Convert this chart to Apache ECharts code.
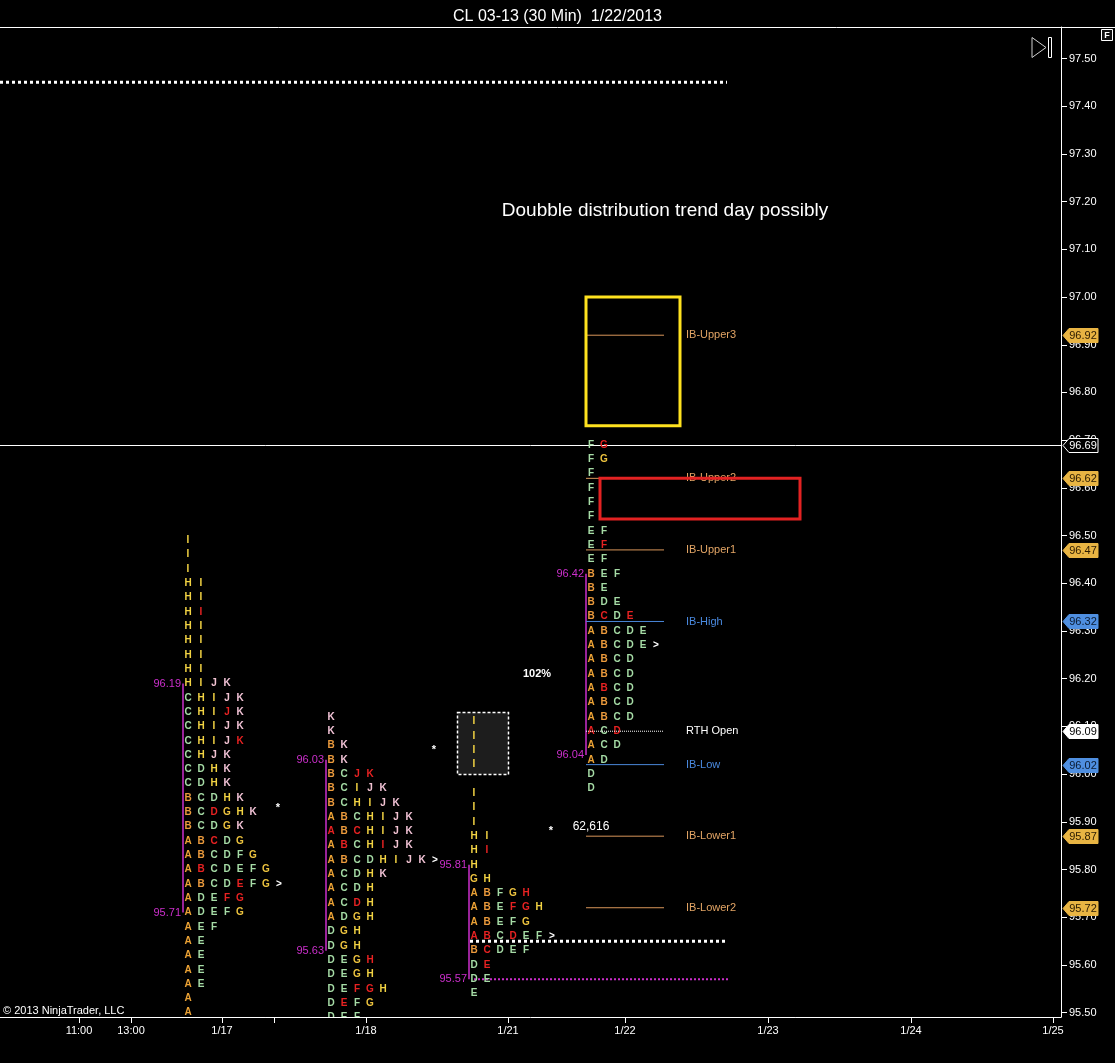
<!DOCTYPE html>
<html>
<head>
<meta charset="utf-8">
<title>CL 03-13 (30 Min) 1/22/2013</title>
<script src="https://cdn.jsdelivr.net/npm/echarts@6/dist/echarts.min.js"></script>
<style>
  html, body { margin: 0; padding: 0; background: #000; }
  #chart { width: 1115px; height: 1063px; }
</style>
</head>
<body>
<div id="chart"></div>
<script>
// axis ticks
var priceTicks = [95.5, 95.6, 95.7, 95.8, 95.9, 96.0, 96.1, 96.2, 96.3, 96.4, 96.5,
  96.6, 96.7, 96.8, 96.9, 97.0, 97.1, 97.2, 97.3, 97.4, 97.5];
var timeTickPos = [79, 131, 222, 274, 366, 508, 625, 768, 911, 1053];
var timeTickLabels = ['11:00', '13:00', '1/17', '', '1/18', '1/21', '1/22', '1/23', '1/24', '1/25'];

// TPO profiles, one row per 3 ticks from the top price down (lowercase = red print, > = close)
var rowStep = 0.03;
var profileX = [188, 331, 474, 591];
var profileTop = [96.49, 96.12, 96.11, 96.69];
var profile0117 = ['I', 'I', 'I', 'HI', 'HI', 'Hi', 'HI', 'HI', 'HI', 'HI', 'HIJK',
  'CHIJK', 'CHIjK', 'CHIJK', 'CHIJk', 'CHJK', 'CDHK', 'CDHK', 'BCDHK', 'BCdGHK', 'BCDGK',
  'ABcDG', 'ABCDFG', 'AbCDEFG', 'ABCDeFG>', 'ADEfg', 'ADEFG', 'AEF', 'AE', 'AE', 'AE', 'AE', 'A', 'A'];
var profile0118 = ['K', 'K', 'BK', 'BK', 'BCjk', 'BCIJK', 'BCHIJK', 'ABCHIJK', 'aBcHIJK', 'AbCHiJK',
  'ABCDHIJK>', 'ACDHK', 'ACDH', 'ACdH', 'ADGH', 'DGH', 'DGH', 'DEGh', 'DEGH', 'DEfgH', 'DeFG', 'DEF'];
var profile0121 = ['I', 'I', 'I', 'I', '', 'I', 'I', 'I', 'HI', 'Hi', 'H', 'GH', 'ABFGh', 'ABEfgH',
  'ABEFG', 'abCdEF>', 'BcDEF', 'De', 'DE', 'E'];
var profile0122 = ['Fg', 'FG', 'F', 'F', 'F', 'F', 'EF', 'Ef', 'EF', 'BEF', 'BE', 'BDE', 'BcDe',
  'ABCDE', 'ABCDE>', 'ABCD', 'ABCD', 'AbCD', 'ABCD', 'ABCD', 'aCd', 'ACD', 'AD', 'D', 'D'];
var vaHigh = [96.19, 96.03, 95.81, 96.42];
var vaLow = [95.71, 95.63, 95.57, 96.04];

// initial balance levels of 1/22
var levelNames = ['IB-Upper3', 'IB-Upper2', 'IB-Upper1', 'IB-High', 'RTH Open', 'IB-Low', 'IB-Lower1', 'IB-Lower2'];
var levelPrices = [96.92, 96.62, 96.47, 96.32, 96.09, 96.02, 95.87, 95.72];
var levelKind = ['ext', 'ext', 'ext', 'ib', 'open', 'ib', 'ext', 'ext'];

// price markers on the axis
var badgePrices = [96.92, 96.69, 96.62, 96.47, 96.32, 96.09, 96.02, 95.87, 95.72];
var badgeKind = ['ext', 'last', 'ext', 'ext', 'ib', 'open', 'ib', 'ext', 'ext'];
var lastPrice = 96.69;

// drawn objects
var dottedPrices = [97.45, 95.65, 95.57];
var dottedFrom = [0, 470, 474];
var dottedTo = [727, 727, 728];
var rectX0 = [586, 600];
var rectX1 = [680, 800];
var rectTop = [97.00, 96.62];
var rectBottom = [96.73, 96.535];
var shadeBox = [457, 96.13, 508, 96.00];
var noteTexts = ['Doubble distribution trend day possibly', '102%', '62,616', '*', '*', '*'];
var noteX = [665, 537, 591, 278, 434, 551];
var notePrices = [97.18, 96.21, 95.89, 95.93, 96.05, 95.88];

var COL_W = 13;
var letterColors = {
  A: '#eba235', B: '#eb9a3c', C: '#a6dca6', D: '#a6dca6', E: '#a6dca6', F: '#a6dca6',
  G: '#ecc23e', H: '#f2d343', I: '#f2d343', J: '#f2c3d2', K: '#f2c3d6'
};
var levelColor = { ext: '#d8955a', ib: '#4a86d8', open: '#ffffff' };
var MAGENTA = '#cc2fcc';

function letterColor(ch) {
  if (ch === '>') return '#ffffff';
  if (ch !== ch.toUpperCase()) return '#e82222';
  return letterColors[ch];
}

var profiles = [profile0117, profile0118, profile0121, profile0122];
var cells = [];
profiles.forEach(function (rows, i) {
  rows.forEach(function (row, r) {
    var price = +(profileTop[i] - r * rowStep).toFixed(2);
    for (var c = 0; c < row.length; c++) {
      cells.push({ value: [profileX[i] + c * COL_W, price], ch: row[c] });
    }
  });
});

function crisp(v) { return Math.round(v) + 0.5; }

var chart = echarts.init(document.getElementById('chart'));
var series = [];

// shaded dashed box behind the letters
series.push({
  type: 'custom', z: 1, clip: false,
  data: [shadeBox],
  renderItem: function (params, api) {
    var a = api.coord([api.value(0), api.value(1)]);
    var b = api.coord([api.value(2), api.value(3)]);
    return { type: 'rect',
      shape: { x: crisp(a[0]), y: crisp(a[1]), width: Math.round(b[0] - a[0]), height: Math.round(b[1] - a[1]) },
      style: { fill: '#1d1d1d', stroke: '#ffffff', lineWidth: 1.5, lineDash: [3, 2] } };
  }
});

// TPO letters
series.push({
  type: 'custom', z: 3, clip: true,
  data: cells.map(function (c) { return c.value; }),
  renderItem: function (params, api) {
    var cell = cells[params.dataIndex];
    var p = api.coord([api.value(0), api.value(1)]);
    return {
      type: 'text', x: p[0], y: p[1],
      style: { text: cell.ch.toUpperCase(), fill: letterColor(cell.ch),
        font: 'bold 10px Arial', align: 'center', verticalAlign: 'middle' }
    };
  }
});

// value area lines + labels
series.push({
  type: 'custom', z: 3, clip: false,
  data: vaHigh.map(function (h, i) { return [profileX[i] - 5, h, vaLow[i]]; }),
  renderItem: function (params, api) {
    var a = api.coord([api.value(0), api.value(1)]);
    var b = api.coord([api.value(0), api.value(2)]);
    return {
      type: 'group',
      children: [
        { type: 'line', shape: { x1: a[0], y1: a[1], x2: b[0], y2: b[1] },
          style: { stroke: MAGENTA, lineWidth: 1.5 } },
        { type: 'text', x: a[0] - 2, y: a[1],
          style: { text: api.value(1).toFixed(2), fill: MAGENTA, font: '11px Arial', align: 'right', verticalAlign: 'middle' } },
        { type: 'text', x: b[0] - 2, y: b[1],
          style: { text: api.value(2).toFixed(2), fill: MAGENTA, font: '11px Arial', align: 'right', verticalAlign: 'middle' } }
      ]
    };
  }
});

// IB level segments
levelPrices.forEach(function (p, i) {
  var open = levelKind[i] === 'open';
  series.push({
    type: 'line', z: 4, symbol: 'none', silent: true,
    data: [[profileX[3] - 5, p], [664, p]],
    lineStyle: { color: levelColor[levelKind[i]], width: 1, type: open ? [1, 1] : 'solid' },
    endLabel: {
      show: true, formatter: levelNames[i], distance: 22,
      color: open ? '#ffffff' : (levelKind[i] === 'ib' ? '#4a8ae0' : '#e3a565'),
      fontFamily: 'Arial', fontSize: 11
    }
  });
});

// dotted levels
dottedPrices.forEach(function (p, i) {
  var mag = i === 2;
  series.push({
    type: 'line', z: 2, symbol: 'none', silent: true,
    data: [[dottedFrom[i], p], [dottedTo[i], p]],
    lineStyle: { color: mag ? MAGENTA : '#ffffff', width: mag ? 2 : 3, type: mag ? [2, 2] : [3, 3] }
  });
});

// last price line, snapped to the pixel grid
series.push({
  type: 'custom', z: 2, clip: false,
  data: [[0, lastPrice, 1061]],
  renderItem: function (params, api) {
    var a = api.coord([api.value(0), api.value(1)]);
    var b = api.coord([api.value(2), api.value(1)]);
    var y = crisp(a[1]);
    return { type: 'line', shape: { x1: a[0], y1: y, x2: b[0], y2: y },
      style: { stroke: '#ffffff', lineWidth: 1 } };
  }
});

// outlined rectangles on top
series.push({
  type: 'custom', z: 5, clip: false,
  data: rectX0.map(function (x, i) { return [x, rectTop[i], rectX1[i], rectBottom[i]]; }),
  renderItem: function (params, api) {
    var a = api.coord([api.value(0), api.value(1)]);
    var b = api.coord([api.value(2), api.value(3)]);
    return { type: 'rect', shape: { x: a[0], y: a[1], width: b[0] - a[0], height: b[1] - a[1] },
      style: { fill: null, stroke: params.dataIndex === 0 ? '#ffe21f' : '#e32222', lineWidth: 3 } };
  }
});

// notes
series.push({
  type: 'custom', z: 4, clip: false,
  data: noteX.map(function (x, i) { return [x, notePrices[i]]; }),
  renderItem: function (params, api) {
    var i = params.dataIndex;
    var p = api.coord([api.value(0), api.value(1)]);
    var font = i === 0 ? '19px Arial' : (i === 2 ? '12px Arial' : 'bold 11px Arial');
    return { type: 'text', x: p[0], y: p[1],
      style: { text: noteTexts[i], fill: '#ffffff', font: font, align: 'center', verticalAlign: 'middle' } };
  }
});

// axis price markers
series.push({
  type: 'custom', z: 6, clip: false,
  data: badgePrices.map(function (p) { return [1061, p]; }),
  renderItem: function (params, api) {
    var kind = badgeKind[params.dataIndex];
    var p = api.coord([api.value(0), api.value(1)]);
    var x = p[0], y = Math.round(p[1]) + 0.5;
    var fill = '#e8b443', stroke = '#e8b443', txt = '#2a1a00';
    if (kind === 'ib') { fill = '#4f8fe0'; stroke = '#4f8fe0'; txt = '#0a1a30'; }
    if (kind === 'open') { fill = '#ffffff'; stroke = '#ffffff'; txt = '#000000'; }
    if (kind === 'last') { fill = '#000000'; stroke = '#ffffff'; txt = '#ffffff'; }
    return {
      type: 'group',
      children: [
        { type: 'polygon',
          shape: { points: [[x + 2, y], [x + 8, y - 7], [x + 37, y - 7], [x + 37, y + 7], [x + 8, y + 7]] },
          style: { fill: fill, stroke: stroke, lineWidth: 1 } },
        { type: 'text', x: x + 22, y: y + 0.5,
          style: { text: api.value(1).toFixed(2), fill: txt, font: '11px Arial', align: 'center', verticalAlign: 'middle' } }
      ]
    };
  }
});

var option = {
  backgroundColor: '#000000',
  animation: false,
  title: {
    text: 'CL 03-13 (30 Min)  1/22/2013',
    left: 'center',
    top: 4,
    textStyle: { color: '#ffffff', fontSize: 16, fontWeight: 'normal', fontFamily: 'Arial' }
  },
  grid: { left: 0, right: 54, top: 27, bottom: 46, show: false },
  xAxis: {
    type: 'value',
    min: 0,
    max: 1061,
    axisLine: { show: true, onZero: false, lineStyle: { color: '#ffffff', width: 1 } },
    axisTick: { show: true, length: 6, customValues: timeTickPos, lineStyle: { color: '#ffffff' } },
    axisLabel: {
      customValues: timeTickPos, color: '#ffffff', fontSize: 11, fontFamily: 'Arial', margin: 8,
      formatter: function (v) { var k = timeTickPos.indexOf(v); return k >= 0 ? timeTickLabels[k] : ''; }
    },
    splitLine: { show: false }
  },
  yAxis: {
    type: 'value',
    position: 'right',
    min: 95.491,
    max: 97.566,
    axisLine: { show: true, onZero: false, lineStyle: { color: '#ffffff', width: 1 } },
    axisTick: { show: true, length: 6, customValues: priceTicks, lineStyle: { color: '#ffffff' } },
    axisLabel: {
      customValues: priceTicks, color: '#ffffff', fontSize: 11, fontFamily: 'Arial', margin: 8,
      formatter: function (v) { return v.toFixed(2); }
    },
    splitLine: { show: false }
  },
  graphic: [
    { type: 'line', shape: { x1: 0, y1: 27.5, x2: 1115, y2: 27.5 }, style: { stroke: '#ffffff', lineWidth: 1 } },
    { type: 'polygon', shape: { points: [[1032, 37.5], [1046, 47.5], [1032, 57.5]] },
      style: { fill: null, stroke: '#cfcfcf', lineWidth: 1 } },
    { type: 'rect', shape: { x: 1048.5, y: 37.5, width: 3, height: 20 },
      style: { fill: null, stroke: '#ffffff', lineWidth: 1 } },
    { type: 'rect', shape: { x: 1101.5, y: 29.5, width: 11, height: 11 },
      style: { fill: '#111111', stroke: '#ffffff', lineWidth: 1 } },
    { type: 'text', x: 1107, y: 35.5,
      style: { text: 'F', fill: '#ffffff', font: 'bold 9px Arial', align: 'center', verticalAlign: 'middle' } },
    { type: 'text', x: 3, y: 1011,
      style: { text: '\u00a9 2013 NinjaTrader, LLC', fill: '#ffffff', font: '11px Arial', verticalAlign: 'middle' } }
  ],
  series: series
};

chart.setOption(option);
</script>
</body>
</html>
